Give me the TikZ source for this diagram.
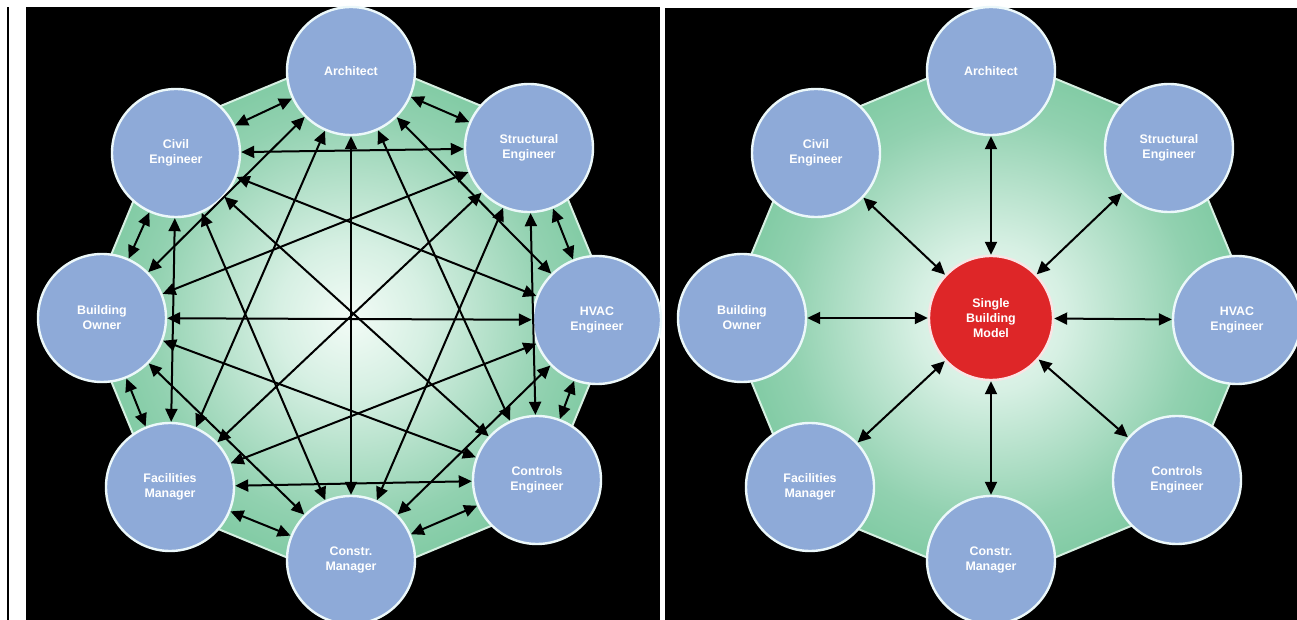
\documentclass[tikz,border=0pt]{standalone}
\usepackage{fontspec}
\setmainfont{Liberation Sans}
\usetikzlibrary{arrows.meta}

\definecolor{rolefill}{RGB}{142,170,216}
\definecolor{rolerim}{RGB}{236,248,250}
\definecolor{corefill}{RGB}{222,38,40}
\definecolor{corerim}{RGB}{250,228,228}
\definecolor{octrim}{RGB}{214,240,226}

% pale centre fading out to the green rim of the octagon
\pgfdeclareradialshading{greenglow}{\pgfpoint{0bp}{0bp}}{%
  rgb(0bp)=(0.95,0.985,0.965);
  rgb(7bp)=(0.84,0.94,0.89);
  rgb(19bp)=(0.57,0.82,0.69);
  rgb(31bp)=(0.40,0.755,0.565);
  rgb(50bp)=(0.35,0.72,0.53)}

\tikzset{
  octagon/.style={shading=greenglow, draw=octrim, line width=1pt},
  role/.style={circle, fill=rolefill, draw=rolerim, line width=1.2pt,
    minimum size=64pt, inner sep=0pt, text=white, align=center,
    font=\fontsize{6.2}{7.5}\selectfont\bfseries},
  core/.style={role, fill=corefill, draw=corerim, minimum size=62pt},
  link/.style={{Triangle[length=6.5pt,width=6pt]}-{Triangle[length=6.5pt,width=6pt]},
    line width=1pt, draw=black},
}

\begin{document}
\begin{tikzpicture}[x=0.5pt,y=-0.5pt]
\useasboundingbox (0,0) rectangle (1297,620);
\fill[white] (0,0) rectangle (1297,620);

% frames of the two panels
\fill[black] (7,7) rectangle (9,620);
\fill[black] (26,7) rectangle (660,620);
\fill[black] (665,8) rectangle (1297,620);

% green octagons behind both rings
\foreach \cx in {351,991} {
  \begin{scope}[shift={(\cx,318)}]
    \shadedraw[octagon] (0:266) -- (45:266) -- (90:266) -- (135:266)
      -- (180:266) -- (225:266) -- (270:266) -- (315:266) -- cycle;
  \end{scope}
}

% the eight project roles, once in each panel
\foreach \side/\cx in {L/351,R/991} {
  \foreach \n/\dx/\dy/\t in {
      arch/0/-247/{Architect},
      str/178/-170/{Structural\\Engineer},
      hvac/246/2/{HVAC\\Engineer},
      ctl/186/162/{Controls\\Engineer},
      con/0/242/{Constr.\\Manager},
      fac/-181/169/{Facilities\\Manager},
      own/-249/0/{Building\\Owner},
      civ/-175/-165/{Civil\\Engineer}} {
    \node[role] (\side\n) at ([shift={(\dx,\dy)}]\cx,318) {\t};
  }
}

% shared model in the right panel
\node[core] (Rcore) at (991,318) {Single\\Building\\Model};

% left panel: every role exchanges with every other role
\foreach \a [count=\i] in {arch,str,hvac,ctl,con,fac,own,civ} {
  \foreach \b [count=\j] in {arch,str,hvac,ctl,con,fac,own,civ} {
    \ifnum\j>\i
      \draw[link] (L\a) -- (L\b);
    \fi
  }
}

% right panel: every role exchanges with the model only
\foreach \a in {arch,str,hvac,ctl,con,fac,own,civ} {
  \draw[link] (R\a) -- (Rcore);
}
\end{tikzpicture}
\end{document}
